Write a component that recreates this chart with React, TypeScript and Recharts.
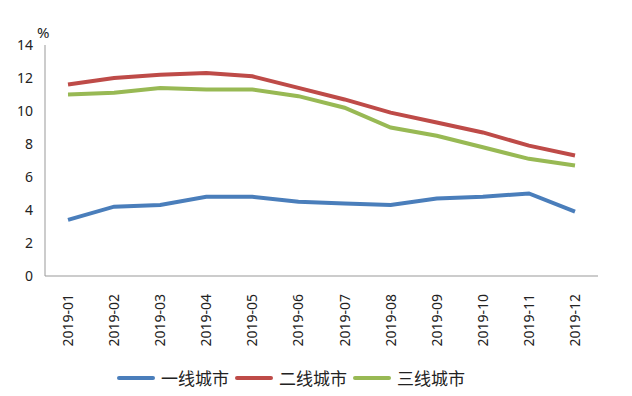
import React from 'react';
import { LineChart, Line, XAxis, YAxis, Legend } from 'recharts';

const months = [
  '2019-01', '2019-02', '2019-03', '2019-04', '2019-05', '2019-06',
  '2019-07', '2019-08', '2019-09', '2019-10', '2019-11', '2019-12',
];
const tier1 = [3.4, 4.2, 4.3, 4.8, 4.8, 4.5, 4.4, 4.3, 4.7, 4.8, 5.0, 3.9];
const tier2 = [11.6, 12.0, 12.2, 12.3, 12.1, 11.4, 10.7, 9.9, 9.3, 8.7, 7.9, 7.3];
const tier3 = [11.0, 11.1, 11.4, 11.3, 11.3, 10.9, 10.2, 9.0, 8.5, 7.8, 7.1, 6.7];
const yTicks = [0, 2, 4, 6, 8, 10, 12, 14];

const SERIES = [
  { key: 'tier1', name: '一线城市', color: '#4a7ebb' },
  { key: 'tier2', name: '二线城市', color: '#be4b48' },
  { key: 'tier3', name: '三线城市', color: '#98b954' },
];

const data = months.map((m, i) => ({
  month: m,
  tier1: tier1[i],
  tier2: tier2[i],
  tier3: tier3[i],
}));

const FONT = '"Noto Sans", "Noto Sans CJK SC", sans-serif';

const MonthTick = (props: any) => {
  const { x, y, payload } = props;
  return (
    <text
      x={0}
      y={0}
      transform={`translate(${x + 5},${y + 10}) rotate(-90)`}
      textAnchor="end"
      fontSize={14}
      fill="#222"
      fontFamily={FONT}
    >
      {payload.value}
    </text>
  );
};

const LegendContent = () => (
  <div style={{ display: 'flex', justifyContent: 'center', fontFamily: FONT, fontSize: 17, color: '#222', paddingRight: 10 }}>
    {SERIES.map((s) => (
      <div key={s.key} style={{ display: 'flex', alignItems: 'center', marginRight: 6 }}>
        <span style={{ display: 'inline-block', width: 38, height: 4, background: s.color, marginRight: 6, borderRadius: 2 }} />
        <span>{s.name}</span>
      </div>
    ))}
  </div>
);

export default function App() {
  return (
    <div style={{ position: 'absolute', left: 0, top: 0, width: 632, height: 396, background: '#fff' }}>
      <LineChart width={632} height={396} data={data} margin={{ top: 45, right: 34, bottom: 19, left: 0 }}>
        <text x={37} y={38} fontSize={15} fill="#222" fontFamily={FONT}>%</text>
        <XAxis
          dataKey="month"
          interval={0}
          tick={<MonthTick />}
          tickLine={false}
          axisLine={{ stroke: '#999' }}
          height={76}
          padding={{ left: 23, right: 23 }}
        />
        <YAxis
          domain={[0, 14]}
          ticks={yTicks}
          width={45}
          tickLine={false}
          axisLine={{ stroke: '#999' }}
          tick={{ fontSize: 14, fill: '#222', fontFamily: FONT }}
          tickMargin={6}
        />
        <Legend verticalAlign="bottom" content={<LegendContent />} wrapperStyle={{ bottom: 6 }} />
        {SERIES.map((s) => (
          <Line
            key={s.key}
            type="linear"
            dataKey={s.key}
            name={s.name}
            stroke={s.color}
            strokeWidth={4}
            dot={false}
            isAnimationActive={false}
          />
        ))}
      </LineChart>
    </div>
  );
}
